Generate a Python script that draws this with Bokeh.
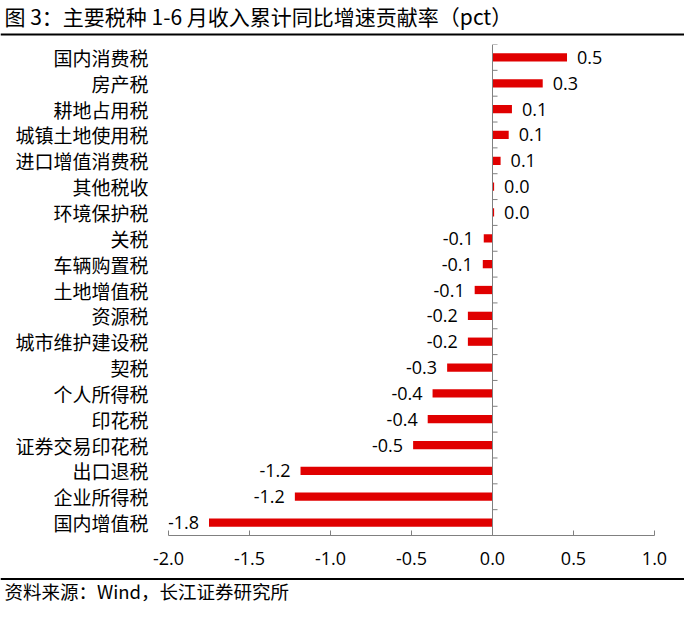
from bokeh.plotting import figure
from bokeh.layouts import column
from bokeh.models import FactorRange, Range1d, Span, Label, FixedTicker, ColumnDataSource
from bokeh.core.properties import value
from bokeh.embed import file_html
from bokeh.resources import INLINE

categories = ["国内消费税", "房产税", "耕地占用税", "城镇土地使用税", "进口增值消费税", "其他税收",
              "环境保护税", "关税", "车辆购置税", "土地增值税", "资源税", "城市维护建设税", "契税",
              "个人所得税", "印花税", "证券交易印花税", "出口退税", "企业所得税", "国内增值税"]
values = [0.46, 0.31, 0.12, 0.10, 0.05, 0.01, 0.01, -0.054, -0.06, -0.11, -0.152, -0.152, -0.28,
          -0.37, -0.40, -0.49, -1.185, -1.22, -1.75]
value_labels = ["0.5", "0.3", "0.1", "0.1", "0.1", "0.0", "0.0", "-0.1", "-0.1", "-0.1", "-0.2", "-0.2",
                "-0.3", "-0.4", "-0.4", "-0.5", "-1.2", "-1.2", "-1.8"]
x_ticks = [-2.0, -1.5, -1.0, -0.5, 0.0, 0.5, 1.0]
x_tick_labels = ["-2.0", "-1.5", "-1.0", "-0.5", "0.0", "0.5", "1.0"]

title_text = "图 3：主要税种 1-6 月收入累计同比增速贡献率（pct）"
source_text = "资料来源：Wind，长江证券研究所"

CJK = "Noto Sans CJK SC"
NUM = "Open Sans"
W = 684
BAR = "#E00000"
AX = "#808080"


def blank(h):
    f = figure(width=W, height=h, output_backend="svg", toolbar_location=None,
               x_range=Range1d(0, W), y_range=Range1d(0, h),
               x_axis_type=None, y_axis_type=None, min_border=0, frame_align=False)
    f.outline_line_color = None
    f.xgrid.visible = False
    f.ygrid.visible = False
    return f


# title block
TH = 36
pt = blank(TH)
pt.add_layout(Label(x=4, y=TH - 15, text=title_text, text_font=CJK, text_font_size="21px",
                    text_baseline="middle", text_color="#000000"))
pt.add_layout(Span(location=2, dimension="width", line_color="black", line_width=2))

# main chart
MH = 541
p = figure(width=W, height=MH, output_backend="svg", toolbar_location=None,
           y_range=FactorRange(factors=list(reversed(categories))),
           x_range=Range1d(-2.0, 1.0), frame_align=False,
           min_border_left=168, min_border_right=30, min_border_top=8, min_border_bottom=42)
p.outline_line_color = None
p.xgrid.visible = False
p.ygrid.visible = False

src = ColumnDataSource(dict(cat=categories, val=values, lab=value_labels,
                            xo=[10 if v >= 0 else -10 for v in values],
                            al=["left" if v >= 0 else "right" for v in values]))
p.hbar(y="cat", left=0, right="val", height=0.32, source=src, fill_color=BAR, line_color=None)
p.text(x="val", y="cat", text="lab", x_offset="xo", text_align="al", text_baseline="middle",
       text_font=value(NUM), text_font_size="18px", text_color="#000000", source=src)

# vertical axis line at zero with ticks between categories
p.add_layout(Span(location=0, dimension="height", line_color=AX, line_width=1))
n = len(categories)
bounds = list(range(0, n + 1))
p.segment(x0=[0] * len(bounds), x1=[0.031] * len(bounds), y0=bounds, y1=bounds,
          line_color=AX, line_width=1)

ya = p.yaxis[0]
ya.axis_line_color = None
ya.major_tick_line_color = None
ya.minor_tick_line_color = None
ya.major_tick_in = 0
ya.major_tick_out = 0
ya.minor_tick_out = 0
ya.major_label_standoff = 20
ya.major_label_text_font = CJK
ya.major_label_text_font_size = "19px"
ya.major_label_text_color = "#000000"

xa = p.xaxis[0]
xa.ticker = FixedTicker(ticks=x_ticks)
xa.major_label_overrides = dict(zip(x_ticks, x_tick_labels))
xa.axis_line_color = AX
xa.major_tick_line_color = AX
xa.major_tick_in = 5
xa.major_tick_out = 0
xa.minor_tick_line_color = None
xa.minor_tick_out = 0
xa.major_label_standoff = 16
xa.major_label_text_font = NUM
xa.major_label_text_font_size = "18px"
xa.major_label_text_color = "#000000"

# source block
SH = 25
ps = blank(SH)
ps.add_layout(Span(location=SH - 1.5, dimension="width", line_color="black", line_width=2))
ps.add_layout(Label(x=4, y=12, text=source_text, text_font=CJK, text_font_size="18.5px",
                    text_baseline="middle", text_color="#000000"))

layout = column(pt, p, ps, spacing=0)
open("out.html", "w").write(file_html(layout, INLINE))
